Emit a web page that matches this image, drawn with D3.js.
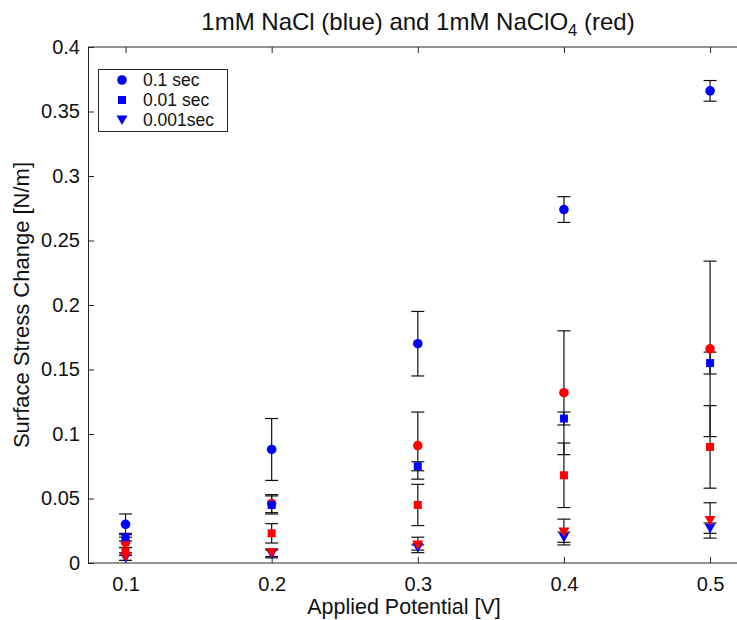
<!DOCTYPE html>
<html>
<head>
<meta charset="utf-8">
<script src="https://cdn.jsdelivr.net/npm/d3@7"></script>
<style>
  html, body { margin: 0; padding: 0; background: #fff; }
  svg { display: block; font-family: "Liberation Sans", Arial, Helvetica, sans-serif; }
</style>
</head>
<body>
<svg id="chart" width="737" height="620"></svg>
<script>
// ---- data ----
const potentials = [0.1, 0.2, 0.3, 0.4, 0.5];
const timeLabels = ["0.1 sec", "0.01 sec", "0.001sec"];
const yTicks = [0, 0.05, 0.1, 0.15, 0.2, 0.25, 0.3, 0.35, 0.4];
const xTicks = [0.1, 0.2, 0.3, 0.4, 0.5];

// NaCl (blue)
const nacl_01 = [0.030, 0.088, 0.170, 0.274, 0.366];
const nacl_01_err = [0.008, 0.024, 0.025, 0.010, 0.008];
const nacl_001 = [0.020, 0.045, 0.075, 0.112, 0.155];
const nacl_001_err = [0.003, 0.007, 0.0035, 0.005, 0.0085];
const nacl_0001 = [0.004, 0.007, 0.012, 0.020, 0.027];
const nacl_0001_err = [0.002, 0.003, 0.002, 0.004, 0.004];

// NaClO4 (red)
const naclo4_01 = [0.016, 0.046, 0.091, 0.132, 0.166];
const naclo4_01_err = [0.004, 0.007, 0.026, 0.048, 0.068];
const naclo4_001 = [0.009, 0.023, 0.045, 0.068, 0.090];
const naclo4_001_err = [0.003, 0.0075, 0.016, 0.025, 0.032];
const naclo4_0001 = [0.005, 0.008, 0.014, 0.024, 0.033];
const naclo4_0001_err = [0.003, 0.003, 0.006, 0.010, 0.0137];

const series = [
  {vals: nacl_01, err: nacl_01_err, color: "#0000ff", shape: "circle"},
  {vals: naclo4_01, err: naclo4_01_err, color: "#ff0000", shape: "circle"},
  {vals: nacl_001, err: nacl_001_err, color: "#0000ff", shape: "square"},
  {vals: naclo4_001, err: naclo4_001_err, color: "#ff0000", shape: "square"},
  {vals: nacl_0001, err: nacl_0001_err, color: "#0000ff", shape: "triangle"},
  {vals: naclo4_0001, err: naclo4_0001_err, color: "#ff0000", shape: "triangle"}
];

// ---- layout ----
const svg = d3.select("#chart");
const plotLeft = 88, plotTop = 47, plotBottom = 563;
const x = d3.scaleLinear().domain([0.075, 0.525]).range([89, 746.6]);
const y = d3.scaleLinear().domain([0, 0.4]).range([plotBottom, plotTop]);
const axisColor = "#262626";

// frame
svg.append("line").attr("x1", plotLeft).attr("x2", 760).attr("y1", plotTop).attr("y2", plotTop).attr("stroke", axisColor);
svg.append("line").attr("x1", plotLeft).attr("x2", 760).attr("y1", plotBottom).attr("y2", plotBottom).attr("stroke", axisColor);

// axes
const yAxis = d3.axisLeft(y).tickValues(yTicks).tickSize(-6).tickPadding(8).tickFormat(d => d3.format("~g")(d));
const gy = svg.append("g").attr("transform", `translate(${plotLeft},0)`).call(yAxis);
gy.selectAll("line").attr("stroke", axisColor);
gy.select(".domain").attr("stroke", axisColor);
gy.selectAll("text").attr("font-size", 20).attr("fill", "#111");

const xAxis = d3.axisBottom(x).tickValues(xTicks).tickSize(-6).tickPadding(14).tickFormat(d3.format("~g"));
const gx = svg.append("g").attr("transform", `translate(0,${plotBottom})`).call(xAxis);
gx.select(".domain").remove();
gx.selectAll("line").attr("stroke", axisColor);
gx.selectAll("text").attr("font-size", 20).attr("fill", "#111");

const xTop = d3.axisTop(x).tickValues(xTicks).tickSize(-6).tickFormat("");
const gxt = svg.append("g").attr("transform", `translate(0,${plotTop})`).call(xTop);
gxt.select(".domain").remove();
gxt.selectAll("line").attr("stroke", axisColor);

// error bars
const cap = 6.5;
series.forEach(s => {
  const g = svg.append("g");
  potentials.forEach((p, i) => {
    const cx = x(p), hi = y(s.vals[i] + s.err[i]), lo = y(Math.max(0, s.vals[i] - s.err[i]));
    g.append("line").attr("x1", cx).attr("x2", cx).attr("y1", hi).attr("y2", lo).attr("stroke", "#111").attr("stroke-width", 1.2);
    g.append("line").attr("x1", cx - cap).attr("x2", cx + cap).attr("y1", hi).attr("y2", hi).attr("stroke", "#111").attr("stroke-width", 1.2);
    g.append("line").attr("x1", cx - cap).attr("x2", cx + cap).attr("y1", lo).attr("y2", lo).attr("stroke", "#111").attr("stroke-width", 1.2);
  });
});

function drawMarker(g, shape, cx, cy, color) {
  if (shape === "circle") {
    g.append("circle").attr("cx", cx).attr("cy", cy).attr("r", 4.8).attr("fill", color);
  } else if (shape === "square") {
    g.append("rect").attr("x", cx - 4).attr("y", cy - 4).attr("width", 8).attr("height", 8).attr("fill", color);
  } else {
    g.append("path").attr("d", `M${cx - 5.5},${cy - 4.5}L${cx + 5.5},${cy - 4.5}L${cx},${cy + 5}Z`).attr("fill", color);
  }
}

series.forEach(s => {
  const g = svg.append("g");
  potentials.forEach((p, i) => drawMarker(g, s.shape, x(p), y(s.vals[i]), s.color));
});

// legend
const lg = svg.append("g");
lg.append("rect").attr("x", 98.5).attr("y", 69.5).attr("width", 129).attr("height", 62)
  .attr("fill", "#fff").attr("stroke", axisColor);
const shapes = ["circle", "square", "triangle"];
timeLabels.forEach((t, i) => {
  const ly = 80 + i * 20;
  drawMarker(lg, shapes[i], 122, ly, "#0000ff");
  lg.append("text").attr("x", 143).attr("y", ly + 6).attr("font-size", 17.5).attr("fill", "#111").text(t);
});

// title
const title = svg.append("text").attr("x", 418).attr("y", 30).attr("text-anchor", "middle")
  .attr("font-size", 24).attr("fill", "#111");
title.append("tspan").text("1mM NaCl (blue) and 1mM NaClO");
title.append("tspan").attr("font-size", 16.5).attr("dy", 6).text("4");
title.append("tspan").attr("dy", -6).text(" (red)");

// axis labels
svg.append("text").attr("x", 404).attr("y", 614).attr("text-anchor", "middle")
  .attr("font-size", 21.5).attr("fill", "#111").text("Applied Potential [V]");
svg.append("text").attr("transform", "translate(29,305) rotate(-90)").attr("text-anchor", "middle")
  .attr("font-size", 22).attr("fill", "#111").text("Surface Stress Change [N/m]");
</script>
</body>
</html>
